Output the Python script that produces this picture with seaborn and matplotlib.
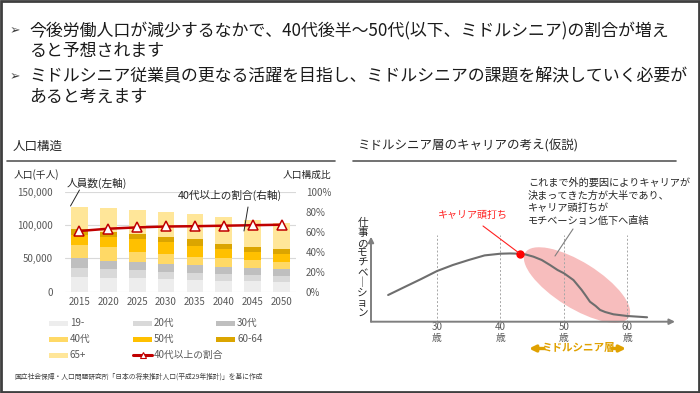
import numpy as np
import pandas as pd
import seaborn as sns
import matplotlib.pyplot as plt
from matplotlib.patches import Ellipse, Rectangle
from matplotlib.lines import Line2D

# --- data --------------------------------------------------------------------
years = ["2015", "2020", "2025", "2030", "2035", "2040", "2045", "2050"]
age_groups = ["19-", "20代", "30代", "40代", "50代", "60-64", "65+"]
pop_under20 = [22500, 21000, 20000, 19000, 17500, 16500, 16000, 15000]
pop_20s = [13500, 13000, 12000, 11000, 11000, 10000, 9000, 8500]
pop_30s = [14000, 12500, 12000, 11500, 11500, 11000, 11000, 10500]
pop_40s = [20000, 20000, 16000, 15000, 11500, 12500, 11500, 11000]
pop_50s = [15000, 16000, 19000, 17500, 17000, 13500, 12500, 12000]
pop_60_64 = [8500, 7500, 7000, 8000, 10000, 8000, 7500, 7000]
pop_65plus = [34000, 36000, 37000, 38000, 37500, 40500, 40500, 39000]
ratio_40plus = [60.7, 63.0, 64.3, 65.2, 65.5, 66.0, 66.5, 67.0]

career_age = [22.3, 25, 27.5, 30, 32.5, 35, 37.5, 40, 41.5, 43, 44, 45.2, 46.5,
              47.8, 49, 50, 51.5, 52.8, 53.5, 54.1, 55, 55.7, 56.5, 57.8, 60, 63.1]
motivation = [31.4, 41.2, 50.2, 59.6, 66.7, 72.6, 78.0, 80.0, 80.3, 80.0, 79.0,
              76.5, 72.6, 66.7, 60.8, 57.0, 49.0, 37.3, 30.0, 23.5, 18.5, 13.8,
              11.4, 8.7, 6.7, 5.2]
peak_age, peak_value = 43, 80.0
age_ticks = [30, 40, 50, 60]

group_colors = ["#EDEDED", "#D9D9D9", "#BFBFBF", "#FFD966", "#FFC000", "#DBA500", "#FFE699"]
RED = "#C00000"
TXT = "#262626"
GREY = "#595959"

sns.set_theme(style="white")
plt.rcParams["font.family"] = ["Noto Sans CJK JP", "DejaVu Sans"]

fig = plt.figure(figsize=(7, 3.93), dpi=100)
W, H = 700, 393


def frac(x0, y0, x1, y1):
    # pixel box (top-left origin) -> figure fraction rect
    return [x0 / W, 1 - y1 / H, (x1 - x0) / W, (y1 - y0) / H]


# --- left: stacked population bars -------------------------------------------
df = pd.DataFrame(dict(zip(age_groups, [pop_under20, pop_20s, pop_30s, pop_40s,
                                        pop_50s, pop_60_64, pop_65plus])))
cum = df.cumsum(axis=1)

ax1 = fig.add_axes(frac(65, 191.7, 296, 291.7))
ax1.set_facecolor("none")
for g, c in reversed(list(zip(age_groups, group_colors))):
    sns.barplot(x=years, y=cum[g].values, color=c, saturation=1, width=0.58,
                errorbar=None, linewidth=0, edgecolor="none", ax=ax1)
ax1.set_ylim(0, 150000)
ax1.set_yticks([0, 50000, 100000, 150000])
ax1.set_yticklabels([f"{v:,}" for v in [0, 50000, 100000, 150000]])
ax1.yaxis.grid(True, color="#D9D9D9", lw=0.8)
ax1.set_axisbelow(True)
ax1.tick_params(axis="y", length=0, pad=9, labelsize=7, labelcolor=GREY)
ax1.tick_params(axis="x", length=0, pad=4, labelsize=7, labelcolor=GREY)
ax1.set_xlabel("")
ax1.set_ylabel("")
sns.despine(ax=ax1, left=True, bottom=True)

ax2 = ax1.twinx()
sns.lineplot(x=np.arange(len(years)), y=ratio_40plus, ax=ax2, color=RED, lw=1.8,
             marker="^", markersize=7, markerfacecolor="white",
             markeredgecolor=RED, markeredgewidth=1.1)
ax2.set_ylim(0, 100)
ax2.set_yticks(range(0, 101, 20))
ax2.set_yticklabels([f"{v}%" for v in range(0, 101, 20)])
ax2.tick_params(axis="y", length=0, pad=7, labelsize=7, labelcolor=GREY)
ax2.set_ylabel("")
ax2.grid(False)
for s in ax2.spines.values():
    s.set_visible(False)
ax1.set_xlim(-0.5, len(years) - 0.5)

# --- right: career motivation curve ------------------------------------------
ax3 = fig.add_axes(frac(371, 236.7, 675, 321.7))
ax3.set_facecolor("none")
sns.lineplot(x=career_age, y=motivation, ax=ax3, color="#6E6E6E", lw=1.5,
             sort=False, zorder=3)
ax3.plot([peak_age], [peak_value], "o", color="#FF0000", ms=5, zorder=4)
ax3.vlines(age_ticks, 0, 102, colors="#A6A6A6", linestyles=(0, (2, 2)), lw=0.7,
           clip_on=False, zorder=2)
ax3.set_xlim(19.6, 67.5)
ax3.set_ylim(0, 100)
ax3.set_xticks(age_ticks)
ax3.set_xticklabels([f"{a}\n歳" for a in age_ticks])
ax3.tick_params(axis="x", length=0, pad=0, labelsize=7, labelcolor=GREY)
for lab in ax3.get_xticklabels():
    lab.set_linespacing(1.15)
ax3.set_yticks([])
ax3.set_xlabel("")
ax3.set_ylabel("")
for s in ax3.spines.values():
    s.set_visible(False)
arrow = dict(arrowstyle="-|>", color="#7F7F7F", lw=1.4, mutation_scale=8,
             shrinkA=0, shrinkB=0)
ax3.annotate("", xy=(1, 0), xytext=(0, 0), xycoords="axes fraction", arrowprops=arrow)
ax3.annotate("", xy=(0, 1), xytext=(0, 0), xycoords="axes fraction", arrowprops=arrow)

# --- overlay in pixel coordinates for slide text -----------------------------
ov = fig.add_axes([0, 0, 1, 1], zorder=10)
ov.set_xlim(0, W)
ov.set_ylim(H, 0)
ov.axis("off")
ov.add_patch(Rectangle((1, 1), W - 2, H - 2, fill=False, ec="#3F3F3F", lw=2))

ax3.add_patch(Ellipse((577, 285), 122, 46, angle=32, transform=ov.transData,
                      fc="#F7BDBD", ec="none", zorder=1, clip_on=False))

bullets = [("今後労働人口が減少するなかで、40代後半～50代(以下、ミドルシニア)の割合が増え", "ると予想されます", 31),
           ("ミドルシニア従業員の更なる活躍を目指し、ミドルシニアの課題を解決していく必要が", "あると考えます", 76.5)]
for l1, l2, y in bullets:
    ov.text(10, y, "➢", family=["DejaVu Sans"], fontsize=9, color="#404040", va="center")
    ov.text(29, y, l1, fontsize=12.2, color="#1A1A1A", va="center")
    ov.text(29, y + 20, l2, fontsize=12.2, color="#1A1A1A", va="center")

ov.text(13, 146, "人口構造", fontsize=9, color=TXT, va="center")
ov.plot([7, 335], [160.5, 160.5], color=GREY, lw=1.2)
ov.text(357, 146, "ミドルシニア層のキャリアの考え(仮説)", fontsize=9, color=TXT, va="center")
ov.plot([353, 676], [160.5, 160.5], color=GREY, lw=1.2)

ov.text(14, 174.5, "人口(千人)", fontsize=7, color=TXT, va="center")
ov.text(331, 174.5, "人口構成比", fontsize=7, color=TXT, va="center", ha="right")
ov.text(67, 183, "人員数(左軸)", fontsize=7.7, color=TXT, va="center")
ov.plot([79.5, 70.5], [190, 206], color=TXT, lw=0.7)
ov.text(178, 195, "40代以上の割合(右軸)", fontsize=7.7, color=TXT, va="center")
ov.plot([248, 244], [207, 231], color=TXT, lw=0.7)

# legend
legend_rows = [age_groups[0:3], age_groups[3:6], [age_groups[6], "40代以上の割合"]]
col_x = [49, 133, 216]
row_y = [323.3, 339.3, 355.3]
colors = dict(zip(age_groups, group_colors))
for r, row in enumerate(legend_rows):
    for c, name in enumerate(row):
        x, y = col_x[c], row_y[r]
        if name in colors:
            ov.add_patch(Rectangle((x, y - 2.5), 19, 5, fc=colors[name], ec="none"))
        else:
            ov.add_line(Line2D([x, x + 19], [y, y], color=RED, lw=2.2))
            ov.plot([x + 9.5], [y - 0.5], marker="^", ms=4.5, mfc="white",
                    mec=RED, mew=0.8)
        ov.text(x + 21, y, name, fontsize=7, color=GREY, va="center")

ov.text(14, 377, "国立社会保障・人口問題研究所「日本の将来推計人口(平成29年推計)」を基に作成",
        fontsize=4.9, color="#404040", va="center")

# right panel annotations
note_lines = ["これまで外的要因によりキャリアが", "決まってきた方が大半であり、",
              "キャリア頭打ちが", "モチベーション低下へ直結"]
for i, line in enumerate(note_lines):
    ov.text(528, 183.3 + 12.5 * i, line, fontsize=7.3, color=TXT, va="center")
ov.plot([573, 555], [229, 256], color="#7F7F7F", lw=0.8)
ov.text(438, 215, "キャリア頭打ち", fontsize=7.2, color="#FF2020", va="center")
ov.plot([483, 519], [226, 253], color="#FF2020", lw=0.8)

ylabel = "仕事のモチベ｜ション"
for i, ch in enumerate(ylabel):
    ov.text(362.5, 223 + 10 * i, ch, fontsize=7.6, color=TXT, ha="center", va="center")

ORANGE = "#E0A100"
ov.text(578, 348.5, "ミドルシニア層", fontsize=7.6, color=ORANGE, ha="center",
        va="center", fontweight="bold")
oarrow = dict(arrowstyle="-|>", color=ORANGE, lw=2.4, mutation_scale=9,
              shrinkA=0, shrinkB=0)
ov.annotate("", xy=(529, 348.5), xytext=(544, 348.5), arrowprops=oarrow)
ov.annotate("", xy=(626, 348.5), xytext=(612, 348.5), arrowprops=oarrow)

fig.savefig("out.png", dpi=100)
